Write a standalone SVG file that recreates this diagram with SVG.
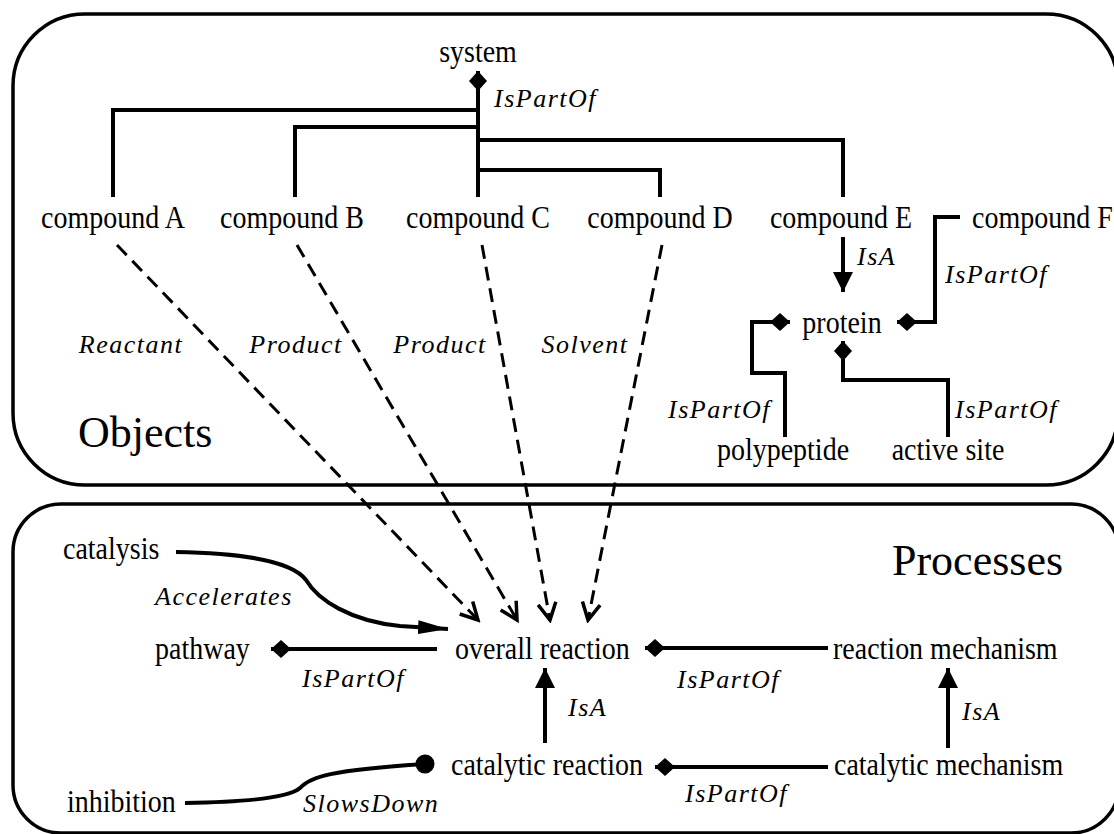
<svg xmlns="http://www.w3.org/2000/svg" width="1114" height="834" viewBox="0 0 1114 834">
<style>
.box{fill:none;stroke:#000;stroke-width:3.5}
.n{font-family:"Liberation Serif","Times New Roman",serif;font-size:28px;fill:#000}
.big{font-family:"Liberation Serif","Times New Roman",serif;font-size:44px;fill:#000}
.l{font-family:"Liberation Serif","Times New Roman",serif;font-size:26px;font-style:italic;letter-spacing:1.5px;fill:#000}
.c{fill:none;stroke:#000;stroke-width:4}
.d{fill:none;stroke:#000;stroke-width:3;stroke-dasharray:14 8}
.m{text-anchor:middle}
</style>
<defs>
<marker id="dia" markerUnits="userSpaceOnUse" viewBox="0 0 20 18" refX="20" refY="9" markerWidth="20" markerHeight="18" orient="auto"><path d="M0,9 L10,0 L20,9 L10,18 z" fill="#000"/></marker>
<marker id="arr" markerUnits="userSpaceOnUse" viewBox="0 0 20 20" refX="20" refY="10" markerWidth="20" markerHeight="20" orient="auto"><path d="M0,0 L20,10 L0,20 z" fill="#000"/></marker>
<marker id="arrL" markerUnits="userSpaceOnUse" viewBox="0 0 30 16" refX="30" refY="8" markerWidth="30" markerHeight="16" orient="auto"><path d="M0,1 L30,8 L0,15 z" fill="#000"/></marker>
<marker id="open" markerUnits="userSpaceOnUse" viewBox="-2 -2 22 22" refX="17" refY="9" markerWidth="22" markerHeight="22" orient="auto"><path d="M0,0 L17,9 L0,18" fill="none" stroke="#000" stroke-width="3.5"/></marker>
<marker id="dot" markerUnits="userSpaceOnUse" viewBox="0 0 20 20" refX="10" refY="10" markerWidth="20" markerHeight="20" orient="auto"><circle cx="10" cy="10" r="9.5" fill="#000"/></marker>
</defs>

<g id="objects-box"><rect class="box" x="13" y="14" width="1105" height="471" rx="72"/><text class="big" x="78" y="447">Objects</text></g>
<g id="processes-box"><rect class="box" x="13" y="504" width="1106" height="329" rx="48"/><text class="big" x="892" y="575">Processes</text></g>

<g id="connectors">
<path class="c" d="M478,197 V71" marker-end="url(#dia)"/>
<path class="c" d="M113,197 V110 H478"/>
<path class="c" d="M295,197 V127 H478"/>
<path class="c" d="M478,140 H843 V197"/>
<path class="c" d="M478,170 H660 V197"/>
<path class="c" d="M843,237 V292" marker-end="url(#arr)"/>
<path class="c" d="M960,217 H935 V322 H897" marker-end="url(#dia)"/>
<path class="c" d="M785,437 V373 H752 V322 H790" marker-end="url(#dia)"/>
<path class="c" d="M948,437 V380 H843 V341" marker-end="url(#dia)"/>
<path class="d" d="M117,245 L478,620" marker-end="url(#open)"/>
<path class="d" d="M297,245 L517,620" marker-end="url(#open)"/>
<path class="d" d="M482,245 L550,620" marker-end="url(#open)"/>
<path class="d" d="M662,245 L588,620" marker-end="url(#open)"/>
<path class="c" d="M176,552 C240,553 292,561 306,580 C318,600 350,621 400,626 L448,629" marker-end="url(#arrL)"/>
<path class="c" d="M437,649 H271" marker-end="url(#dia)"/>
<path class="c" d="M828,648 H645" marker-end="url(#dia)"/>
<path class="c" d="M828,767 H655" marker-end="url(#dia)"/>
<path class="c" d="M545,743 V668" marker-end="url(#arr)"/>
<path class="c" d="M948,748 V668" marker-end="url(#arr)"/>
<path class="c" d="M185,803 C250,802 290,797 300,788 C310,777 330,770 425,764" marker-end="url(#dot)"/>
<g id="labels">
<text class="l" x="494" y="107">IsPartOf</text>
<text class="l" x="857" y="265">IsA</text>
<text class="l" x="945" y="283">IsPartOf</text>
<text class="l" x="668" y="418">IsPartOf</text>
<text class="l" x="955" y="418">IsPartOf</text>
<text class="l m" x="131" y="353">Reactant</text>
<text class="l m" x="296" y="353">Product</text>
<text class="l m" x="440" y="353">Product</text>
<text class="l m" x="585" y="353">Solvent</text>
<text class="l" x="155" y="605">Accelerates</text>
<text class="l" x="302" y="687">IsPartOf</text>
<text class="l" x="677" y="688">IsPartOf</text>
<text class="l" x="568" y="716">IsA</text>
<text class="l" x="962" y="720">IsA</text>
<text class="l" x="685" y="802">IsPartOf</text>
<text class="l" x="303" y="812">SlowsDown</text>
</g>
</g>

<g id="system"><text class="n m" transform="translate(478 62) scale(1 1.15)">system</text></g>
<g id="compoundA"><text class="n m" transform="translate(113 228) scale(1 1.15)">compound A</text></g>
<g id="compoundB"><text class="n m" transform="translate(292 228) scale(1 1.15)">compound B</text></g>
<g id="compoundC"><text class="n m" transform="translate(478 228) scale(1 1.15)">compound C</text></g>
<g id="compoundD"><text class="n m" transform="translate(660 228) scale(1 1.15)">compound D</text></g>
<g id="compoundE"><text class="n m" transform="translate(841 228) scale(1 1.15)">compound E</text></g>
<g id="compoundF"><text class="n" transform="translate(972 228) scale(1 1.15)">compound F</text></g>
<g id="protein"><text class="n m" transform="translate(842 333) scale(1 1.15)">protein</text></g>
<g id="polypeptide"><text class="n m" transform="translate(783 460) scale(1 1.15)">polypeptide</text></g>
<g id="activesite"><text class="n m" transform="translate(948 460) scale(1 1.15)">active site</text></g>
<g id="catalysis"><text class="n" transform="translate(63 559) scale(1 1.15)">catalysis</text></g>
<g id="pathway"><text class="n" transform="translate(155 659) scale(1 1.15)">pathway</text></g>
<g id="overallreaction"><text class="n" transform="translate(455 659) scale(1 1.15)">overall reaction</text></g>
<g id="reactionmechanism"><text class="n" transform="translate(833 659) scale(1 1.15)">reaction mechanism</text></g>
<g id="inhibition"><text class="n" transform="translate(67 812) scale(1 1.15)">inhibition</text></g>
<g id="catalyticreaction"><text class="n" transform="translate(451 775) scale(1 1.15)">catalytic reaction</text></g>
<g id="catalyticmechanism"><text class="n" transform="translate(834 775) scale(1 1.15)">catalytic mechanism</text></g>
</svg>
